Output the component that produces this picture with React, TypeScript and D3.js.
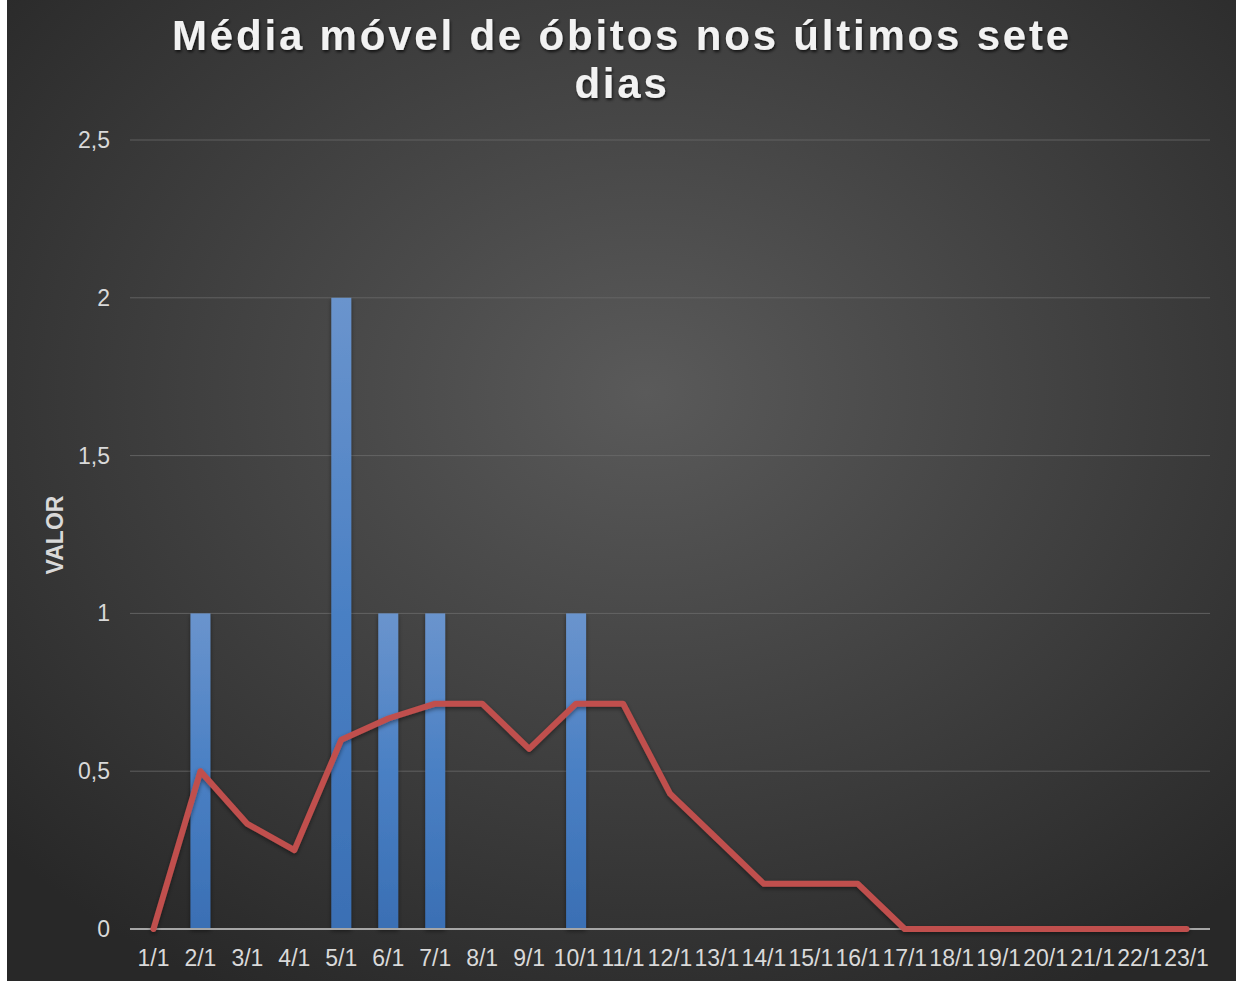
import React from "react";
import * as d3 from "d3";

const categories = ["1/1","2/1","3/1","4/1","5/1","6/1","7/1","8/1","9/1","10/1","11/1","12/1","13/1","14/1","15/1","16/1","17/1","18/1","19/1","20/1","21/1","22/1","23/1"];
const obitos = [0,1,0,0,2,1,1,0,0,1,0,0,0,0,0,0,0,0,0,0,0,0,0];
const mediaMovel = [0,0.5,0.333,0.25,0.6,0.667,0.714,0.714,0.571,0.714,0.714,0.429,0.286,0.143,0.143,0.143,0,0,0,0,0,0,0];
const yTicks = [0,0.5,1,1.5,2,2.5];
const titleLines = ["Média móvel de óbitos nos últimos sete", "dias"];
const yTitle = "VALOR";

export default function App() {
  const W = 1236, H = 981;
  const left = 130, right = 1210, top = 140, bottom = 929;
  const x = d3.scaleBand<string>().domain(categories).range([left, right]).paddingInner(0.575).paddingOuter(0.2875);
  const xc = (c: string) => (x(c) as number) + x.bandwidth() / 2;
  const y = d3.scaleLinear().domain([0, 2.5]).range([bottom, top]);
  const line = d3.line<number>().x((_, i) => xc(categories[i])).y(d => y(d));
  const font = "Liberation Sans, Arial, sans-serif";
  return (
    <svg width={W} height={H} style={{ position: "absolute", left: 0, top: 0, fontFamily: font }}>
      <defs>
        <radialGradient id="bg" cx="0.52" cy="0.4" r="0.7">
          <stop offset="0" stopColor="#5a5a5a" />
          <stop offset="1" stopColor="#282828" />
        </radialGradient>
        <linearGradient id="bar" x1="0" y1="0" x2="0" y2="1">
          <stop offset="0" stopColor="#6a94cd" />
          <stop offset="0.5" stopColor="#4a80c4" />
          <stop offset="1" stopColor="#3a6fb4" />
        </linearGradient>
        <filter id="sh" x="-20%" y="-20%" width="140%" height="140%">
          <feDropShadow dx="0" dy="2" stdDeviation="2" floodColor="#000" floodOpacity="0.45" />
        </filter>
        <filter id="tsh" x="-10%" y="-30%" width="120%" height="160%">
          <feDropShadow dx="1" dy="2" stdDeviation="1.5" floodColor="#000" floodOpacity="0.7" />
        </filter>
      </defs>
      <rect x={0} y={0} width={W} height={H} fill="#ffffff" />
      <rect x={7} y={0} width={W - 7} height={H} fill="url(#bg)" />
      {titleLines.map((t, i) => (
        <text key={i} x={622} y={50 + i * 48} textAnchor="middle" fill="#f2f2f2" fontSize={42} fontWeight="bold" letterSpacing={2.8} filter="url(#tsh)">{t}</text>
      ))}
      {yTicks.map(t => (
        <g key={t}>
          {t > 0 && <line x1={left} x2={right} y1={y(t)} y2={y(t)} stroke="#6a6a6a" strokeOpacity={0.8} strokeWidth={1} />}
          <text x={110} y={y(t)} dy="0.35em" textAnchor="end" fill="#d9d9d9" fontSize={23}>{String(t).replace(".", ",")}</text>
        </g>
      ))}
      <text transform={`translate(63,535) rotate(-90)`} textAnchor="middle" fill="#d9d9d9" fontSize={23} fontWeight="bold">{yTitle}</text>
      {categories.map((c, i) => obitos[i] > 0 ? (
        <rect key={c} x={x(c)} y={y(obitos[i])} width={x.bandwidth()} height={y(0) - y(obitos[i])} fill="url(#bar)" filter="url(#sh)" />
      ) : null)}
      <line x1={left} x2={right} y1={y(0)} y2={y(0)} stroke="#a6a6a6" strokeWidth={2} />
      <path d={line(mediaMovel) || ""} fill="none" stroke="#c0504d" strokeWidth={6} strokeLinejoin="round" strokeLinecap="round" filter="url(#sh)" />
      {categories.map(c => (
        <text key={c} x={xc(c)} y={958} dy="0.35em" textAnchor="middle" fill="#d9d9d9" fontSize={23}>{c}</text>
      ))}
    </svg>
  );
}
